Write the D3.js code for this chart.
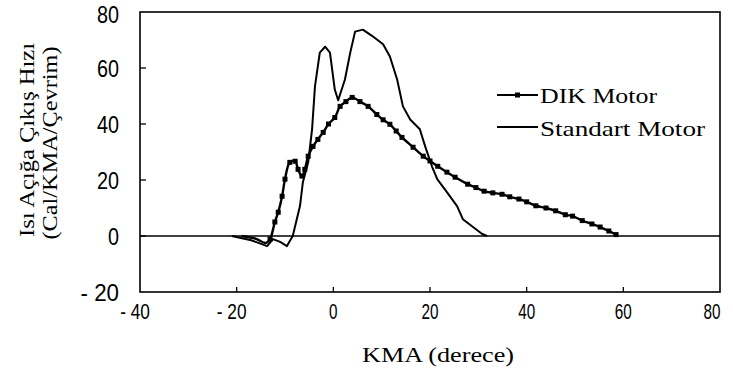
<!DOCTYPE html>
<html>
<head>
<meta charset="utf-8">
<script src="https://cdn.jsdelivr.net/npm/d3@7"></script>
<style>
  body { margin: 0; background: #fff; }
  svg { display: block; }
</style>
</head>
<body>
<script>
// Heat release rate: DIK motor vs standard motor

const dikX = [-19, -16, -14, -13.1, -12.1, -11.4, -10.6, -10.0, -9.0, -7.9, -7.3, -6.5, -5.9, -5.2, -4.2, -3.2, -2.1, -1, 0.3, 1.4, 2.6, 3.9, 5.5, 7.2, 9.0, 10.3, 11.7, 13, 14.2, 16.5, 18.6, 20, 21.6, 23.5, 25.2, 27.8, 29.5, 31.2, 33, 34.9, 36.5, 38.4, 40, 41.9, 44, 46, 48, 49.5, 51.5, 53.5, 55.2, 57, 58.5];
const dikY = [0, -1, -2.5, -1.1, 5, 8.5, 14.2, 20.3, 26.3, 26.7, 23.8, 21.4, 23.8, 28.5, 32, 34.5, 37, 40, 42.3, 46.3, 48, 49.5, 48, 46.3, 43.4, 41.5, 39.9, 37.5, 35.2, 31.7, 28.5, 26.8, 24.9, 22.8, 21, 18.5, 17.3, 16, 15.4, 14.9, 14, 13.2, 12.2, 10.8, 10, 9, 7.6, 7.1, 5.5, 4.3, 3.2, 1.8, 0.5];

const stdX = [-21, -17, -13.7, -12.5, -11, -9.6, -8.4, -6.9, -6.3, -5.2, -4.4, -3.8, -2.8, -1.7, -0.7, 0.3, 1.0, 2.4, 3.5, 4.5, 6.1, 8.0, 10.3, 11.7, 13.2, 14.4, 15.9, 17.9, 19.0, 20.4, 21.5, 23.5, 25.6, 26.8, 28.9, 30.8, 31.8];
const stdY = [0, -1.5, -3.6, -1.1, -2.1, -3.6, 0, 10.7, 19.2, 26.3, 38.1, 53.4, 65.5, 67.6, 65.5, 52.3, 48.5, 55.9, 65.5, 73.0, 73.7, 71.5, 68.5, 64.1, 55.9, 46.3, 41.6, 38.1, 32.0, 24.9, 20.3, 15.7, 10.7, 6.0, 3.2, 0.7, 0];

const xTicks = [-40, -20, 0, 20, 40, 60, 80];
const yTicks = [-20, 0, 20, 40, 60, 80];
const seriesNames = ["DIK Motor", "Standart Motor"];

const width = 733, height = 378;
const margin = { left: 140, right: 13, top: 12, bottom: 86 };

const svg = d3.select("body").append("svg")
    .attr("width", width)
    .attr("height", height);

const x = d3.scaleLinear().domain([-40, 80]).range([margin.left, width - margin.right]);
const y = d3.scaleLinear().domain([-20, 80]).range([height - margin.bottom, margin.top]);

const numFont = '"Liberation Sans", Arial, sans-serif';
const serifFont = '"Liberation Serif", "Times New Roman", serif';
const fmt = d => d < 0 ? "- " + Math.abs(d) : String(d);
const numLen = (d, w) => d < 0 ? w * 1.75 : (d === 0 ? w / 2 : w);

// frame
svg.append("rect")
    .attr("x", x(-40)).attr("y", y(80))
    .attr("width", x(80) - x(-40)).attr("height", y(-20) - y(80))
    .attr("fill", "none").attr("stroke", "#000").attr("stroke-width", 1.6);

// inner ticks
svg.selectAll(".xt").data(xTicks.slice(1, -1)).enter().append("line")
    .attr("x1", d => x(d)).attr("x2", d => x(d))
    .attr("y1", y(-20)).attr("y2", y(-20) - 5)
    .attr("stroke", "#000").attr("stroke-width", 1.3);
svg.selectAll(".yt").data(yTicks.slice(1, -1)).enter().append("line")
    .attr("x1", x(-40)).attr("x2", x(-40) + 6)
    .attr("y1", d => y(d)).attr("y2", d => y(d))
    .attr("stroke", "#000").attr("stroke-width", 1.3);

// tick labels
svg.selectAll(".xl").data(xTicks).enter().append("text")
    .attr("x", d => x(d) - (d === 80 ? 8 : (d < 0 ? 5 : 0))).attr("y", 319)
    .attr("text-anchor", "middle")
    .attr("textLength", d => numLen(d, 17)).attr("lengthAdjust", "spacingAndGlyphs")
    .style("font-family", numFont).style("font-size", "22px")
    .text(fmt);
svg.selectAll(".yl").data(yTicks).enter().append("text")
    .attr("x", 119).attr("y", d => y(d) + (d === 80 ? 11 : 9))
    .attr("text-anchor", "end")
    .attr("textLength", d => numLen(d, 22)).attr("lengthAdjust", "spacingAndGlyphs")
    .style("font-family", numFont).style("font-size", "24px")
    .text(fmt);

// zero line
svg.append("line")
    .attr("x1", x(-40)).attr("x2", x(80))
    .attr("y1", y(0)).attr("y2", y(0))
    .attr("stroke", "#000").attr("stroke-width", 1.6);

const dik = dikX.map((v, i) => [v, dikY[i]]);
const std = stdX.map((v, i) => [v, stdY[i]]);

svg.append("path").datum(std)
    .attr("d", d3.line().x(d => x(d[0])).y(d => y(d[1])))
    .attr("fill", "none").attr("stroke", "#000").attr("stroke-width", 2).attr("stroke-linejoin", "round");
svg.append("path").datum(dik)
    .attr("d", d3.line().x(d => x(d[0])).y(d => y(d[1])).curve(d3.curveCatmullRom))
    .attr("fill", "none").attr("stroke", "#000").attr("stroke-width", 2.4).attr("stroke-linejoin", "round");
svg.selectAll(".mk").data(dik.slice(3)).enter().append("rect")
    .attr("x", d => x(d[0]) - 2.5).attr("y", d => y(d[1]) - 2.5)
    .attr("width", 5).attr("height", 5).attr("fill", "#000");

// legend
const lg = svg.append("g");
[95, 127].forEach((ly, i) => {
    lg.append("line").attr("x1", 497).attr("x2", 538).attr("y1", ly).attr("y2", ly)
        .attr("stroke", "#000").attr("stroke-width", 1.8);
    lg.append("text").attr("x", 540).attr("y", ly + (i === 0 ? 8 : 9))
        .attr("textLength", i === 0 ? 117 : 165).attr("lengthAdjust", "spacingAndGlyphs")
        .style("font-family", serifFont).style("font-size", "22px")
        .text(seriesNames[i]);
});
lg.append("rect").attr("x", 515).attr("y", 92.5).attr("width", 5).attr("height", 5).attr("fill", "#000");

// axis titles
svg.append("text").attr("x", 362).attr("y", 362)
    .attr("textLength", 152).attr("lengthAdjust", "spacingAndGlyphs")
    .style("font-family", serifFont).style("font-size", "21px")
    .text("KMA (derece)");

svg.append("text")
    .attr("transform", "translate(34,140) rotate(-90)")
    .attr("text-anchor", "middle")
    .attr("textLength", 194).attr("lengthAdjust", "spacingAndGlyphs")
    .style("font-family", serifFont).style("font-size", "20px")
    .text("Isı Açığa Çıkış Hızı");
svg.append("text")
    .attr("transform", "translate(57,143) rotate(-90)")
    .attr("text-anchor", "middle")
    .attr("textLength", 193).attr("lengthAdjust", "spacingAndGlyphs")
    .style("font-family", serifFont).style("font-size", "20px")
    .text("(Cal/KMA/Çevrim)");
</script>
</body>
</html>
